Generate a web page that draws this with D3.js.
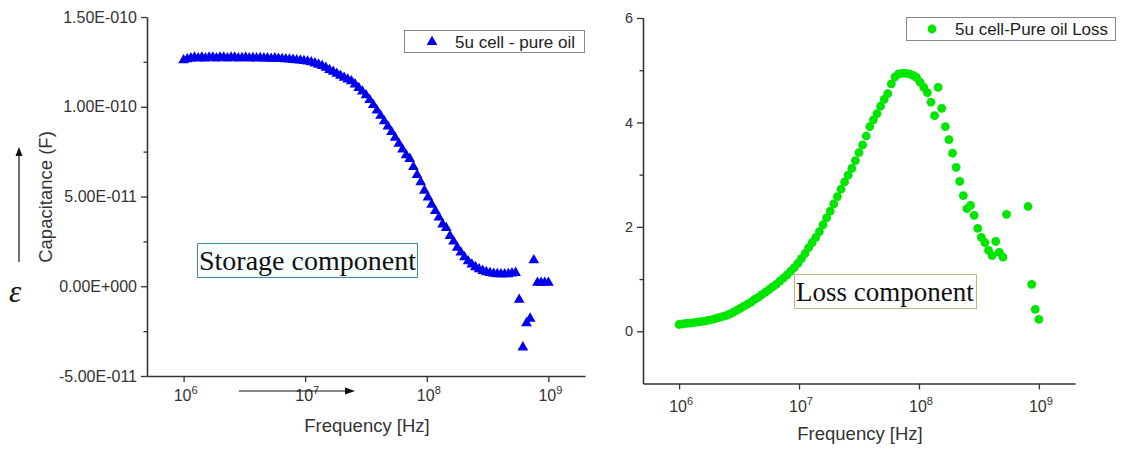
<!DOCTYPE html>
<html>
<head>
<meta charset="utf-8">
<script src="https://cdn.jsdelivr.net/npm/d3@7"></script>
<style>
body { margin: 0; background: #fff; }
svg { font-family: "Liberation Sans", Arial, sans-serif; }
</style>
</head>
<body>
<svg id="chart" width="1139" height="449"></svg>
<script>
// frequency sweep of the analyser, same for both measurements (Hz)
var freq = [
    1.000e6, 1.072e6, 1.148e6, 1.230e6, 1.318e6, 1.413e6, 1.514e6, 1.622e6, 1.738e6, 1.862e6,
    1.995e6, 2.138e6, 2.291e6, 2.455e6, 2.630e6, 2.818e6, 3.020e6, 3.236e6, 3.467e6, 3.715e6,
    3.981e6, 4.266e6, 4.571e6, 4.898e6, 5.248e6, 5.623e6, 6.026e6, 6.457e6, 6.918e6, 7.413e6,
    7.943e6, 8.511e6, 9.120e6, 9.772e6, 1.047e7, 1.122e7, 1.202e7, 1.288e7, 1.380e7, 1.479e7,
    1.585e7, 1.698e7, 1.820e7, 1.950e7, 2.089e7, 2.239e7, 2.399e7, 2.570e7, 2.754e7, 2.951e7,
    3.162e7, 3.388e7, 3.631e7, 3.890e7, 4.169e7, 4.467e7, 4.786e7, 5.129e7, 5.495e7, 5.888e7,
    6.310e7, 6.761e7, 7.244e7, 7.762e7, 8.318e7, 8.913e7, 9.550e7, 1.023e8, 1.096e8, 1.175e8,
    1.259e8, 1.349e8, 1.445e8, 1.549e8, 1.660e8, 1.778e8, 1.905e8, 2.042e8, 2.188e8, 2.344e8,
    2.512e8, 2.692e8, 2.884e8, 3.090e8, 3.311e8, 3.548e8, 3.802e8, 4.074e8, 4.365e8, 4.677e8,
    5.012e8, 5.370e8, 5.754e8, 6.166e8, 6.607e8, 7.079e8, 7.586e8, 8.128e8, 8.710e8, 9.333e8,
    1.000e9
];

// capacitance, in units of 1e-11 F
var cap_e11 = [
    12.6, 12.65, 12.7, 12.75, 12.7, 12.75, 12.7, 12.75, 12.75, 12.7,
    12.75, 12.75, 12.7, 12.75, 12.75, 12.7, 12.72, 12.75, 12.7, 12.72,
    12.7, 12.72, 12.7, 12.7, 12.68, 12.7, 12.68, 12.66, 12.65, 12.64,
    12.62, 12.6, 12.58, 12.55, 12.52, 12.48, 12.42, 12.35, 12.27, 12.18,
    12.05, 11.95, 11.84, 11.73, 11.62, 11.52, 11.42, 11.25, 11.05, 10.85,
    10.65, 10.38, 10.1, 9.8, 9.5, 9.2, 8.9, 8.6, 8.28, 7.94,
    7.62, 7.3, 7.1, 6.65, 6.2, 5.8, 5.33, 4.95, 4.55, 4.2,
    3.83, 3.45, 3.25, 2.8, 2.5, 2.15, 1.88, 1.62, 1.4, 1.22,
    1.07, 0.95, 0.86, 0.79, 0.74, 0.70, 0.68, 0.67, 0.67, 0.68,
    0.72, 0.75, -0.75, -3.4, -2.05, -1.8, 1.45, 0.2, 0.2, 0.2,
    0.2
];

// dissipation factor (null = point not shown)
var dissipation = [
    0.13, 0.14, 0.15, 0.155, 0.165, 0.175, 0.185, 0.195, 0.21, 0.22,
    0.24, 0.26, 0.28, 0.30, 0.33, 0.36, 0.40, 0.44, 0.48, 0.52,
    0.56, 0.61, 0.65, 0.70, 0.75, 0.80, 0.85, 0.90, 0.96, 1.02,
    1.08, 1.15, 1.22, 1.30, 1.39, 1.49, 1.60, 1.70, 1.80, 1.91,
    2.04, 2.17, 2.30, 2.44, 2.58, 2.72, 2.86, 2.99, 3.12, 3.27,
    3.42, 3.57, 3.74, 3.92, 4.05, 4.17, 4.31, 4.44, 4.55, 4.74,
    4.87, 4.93, 4.94, 4.94, 4.93, 4.90, 4.86, 4.77, 4.67, 4.57,
    4.39, 4.13, 4.67, 4.27, 3.92, 3.67, 3.41, 3.14, 2.87, 2.60,
    2.35, 2.41, 2.22, 1.97, 1.80, 1.70, 1.55, 1.45, 1.72, 1.51,
    1.42, 2.24, null, null, null, null, null, 2.39, 0.90, 0.42,
    0.23
];

// axis ticks and labels
var decades = [1e6, 1e7, 1e8, 1e9];
var decade_exp = ["6", "7", "8", "9"];
var cap_ticks = [-5e-11, 0, 5e-11, 1e-10, 1.5e-10];
var cap_tick_labels = ["-5.00E-011", "0.00E+000", "5.00E-011", "1.00E-010", "1.50E-010"];
var cap_minor = [-2.5e-11, 2.5e-11, 7.5e-11, 1.25e-10];
var df_ticks = [0, 2, 4, 6];
var df_minor = [1, 3, 5];

var left_legend = "5u cell - pure oil";
var right_legend = "5u cell-Pure oil Loss";

var serif = "'Liberation Serif', 'Times New Roman', serif";

var svg = d3.select("#chart");

var xL = d3.scaleLog().domain([5e5, 2e9]).range([147, 585]);
var yL = d3.scaleLinear().domain([-5e-11, 1.5e-10]).range([376, 17]);
var xR = d3.scaleLog().domain([5e5, 2e9]).range([643, 1075]);
var yR = d3.scaleLinear().domain([-1, 6]).range([383.5, 18]);

// draw the frame of one panel
function draw_axes(x, y, y_ticks, y_format, y_minor, tick_font, label_dy) {
    var x0 = x.range()[0];
    var yb = y.range()[0];

    var gx = svg.append("g").attr("transform", "translate(0," + yb + ")").attr("color", "#333");
    gx.call(d3.axisBottom(x).tickValues(x.ticks()).tickSize(3.5).tickFormat("").tickSizeOuter(0));
    gx.call(d3.axisBottom(x).tickValues(decades).tickSize(6).tickFormat("").tickSizeOuter(0));
    gx.selectAll("path, line").attr("stroke-width", 1.3);

    var gy = svg.append("g").attr("transform", "translate(" + x0 + ",0)").attr("color", "#333");
    gy.append("g").call(d3.axisLeft(y).tickValues(y_minor).tickSize(3.5).tickFormat("").tickSizeOuter(0));
    gy.append("g").call(d3.axisLeft(y).tickValues(y_ticks).tickSize(6).tickPadding(4)
        .tickFormat(y_format).tickSizeOuter(0));
    gy.selectAll("path, line").attr("stroke-width", 1.3);
    gy.selectAll("text")
        .attr("font-size", tick_font)
        .attr("font-family", "Liberation Sans, Arial, sans-serif")
        .attr("fill", "#333");

    // 10^n labels
    decades.forEach(function(d, i) {
        var t = svg.append("text")
            .attr("x", x(d) + 2)
            .attr("y", yb + label_dy)
            .attr("text-anchor", "middle")
            .attr("fill", "#333")
            .attr("font-size", 16);
        t.append("tspan").text("10");
        t.append("tspan").attr("font-size", 11).attr("dy", -7).text(decade_exp[i]);
    });
}

draw_axes(xL, yL, cap_ticks, function(d, i) { return cap_tick_labels[i]; }, cap_minor, 16, 25);
draw_axes(xR, yR, df_ticks, function(d) { return d; }, df_minor, 14.5, 28);

// axis titles
svg.append("text").attr("x", 367).attr("y", 432).attr("text-anchor", "middle").attr("fill", "#333")
    .attr("font-size", 18.5).text("Frequency [Hz]");
svg.append("text").attr("x", 860).attr("y", 440).attr("text-anchor", "middle").attr("fill", "#333")
    .attr("font-size", 18.5).text("Frequency [Hz]");
svg.append("text").attr("transform", "translate(52,197) rotate(-90)").attr("text-anchor", "middle")
    .attr("fill", "#333").attr("font-size", 18.5).text("Capacitance (F)");

// right y title is cut by the panel edge in the original
svg.append("clipPath").attr("id", "cut").append("rect")
    .attr("x", 605).attr("y", 0).attr("width", 40).attr("height", 449);
svg.append("text").attr("clip-path", "url(#cut)")
    .attr("transform", "translate(615,191) rotate(-90)").attr("text-anchor", "middle")
    .attr("fill", "#333").attr("font-size", 20.5).text("Dissipation factor");

// data
var tri = d3.symbol().type(d3.symbolTriangle).size(50);
svg.append("g").selectAll("path")
    .data(cap_e11)
  .enter()
    .append("path")
    .attr("d", tri)
    .attr("fill", "#0000ee")
    .attr("transform", function(d, i) {
        return "translate(" + xL(freq[i]) + "," + yL(d * 1e-11) + ")";
    });

svg.append("g").selectAll("circle")
    .data(dissipation.map(function(d, i) { return [freq[i], d]; }).filter(function(p) { return p[1] != null; }))
  .enter()
    .append("circle")
    .attr("r", 4.4)
    .attr("fill", "#00e600")
    .attr("cx", function(p) { return xR(p[0]); })
    .attr("cy", function(p) { return yR(p[1]); });

// legends
svg.append("rect").attr("x", 404.5).attr("y", 30.5).attr("width", 180).attr("height", 22)
    .attr("fill", "#fff").attr("stroke", "#888");
svg.append("path").attr("d", tri).attr("fill", "#0000ee").attr("transform", "translate(432,42)");
svg.append("text").attr("x", 455).attr("y", 48).attr("font-size", 17).attr("fill", "#222").text(left_legend);

svg.append("rect").attr("x", 906.5).attr("y", 17.5).attr("width", 209).attr("height", 23)
    .attr("fill", "#fff").attr("stroke", "#888");
svg.append("circle").attr("cx", 932).attr("cy", 29).attr("r", 4.4).attr("fill", "#00e600");
svg.append("text").attr("x", 955).attr("y", 35).attr("font-size", 17).attr("fill", "#222").text(right_legend);

// annotation boxes
svg.append("rect").attr("x", 197.5).attr("y", 243.5).attr("width", 220).attr("height", 34)
    .attr("fill", "#f7fcfd").attr("stroke", "#3e8ea3");
svg.append("text").attr("x", 199).attr("y", 270).attr("font-size", 28)
    .style("font-family", serif).attr("fill", "#111")
    .text("Storage component");

svg.append("rect").attr("x", 794.5).attr("y", 274.5).attr("width", 182).attr("height", 34)
    .attr("fill", "#fff").attr("stroke", "#b8b87c");
svg.append("text").attr("x", 796).attr("y", 301).attr("font-size", 27)
    .style("font-family", serif).attr("fill", "#111")
    .text("Loss component");

// epsilon and arrows
svg.append("text").attr("x", 9).attr("y", 302).attr("font-size", 31).attr("font-style", "italic")
    .style("font-family", serif).attr("fill", "#111").text("ε");

svg.append("line").attr("x1", 19).attr("y1", 262).attr("x2", 19).attr("y2", 154)
    .attr("stroke", "#111").attr("stroke-width", 1.2);
svg.append("path").attr("d", "M19,147 L15.5,156 L22.5,156 Z").attr("fill", "#111");

svg.append("line").attr("x1", 239).attr("y1", 391).attr("x2", 346).attr("y2", 391)
    .attr("stroke", "#111").attr("stroke-width", 1.2);
svg.append("path").attr("d", "M355,391 L345,387.5 L345,394.5 Z").attr("fill", "#111");
</script>
</body>
</html>
